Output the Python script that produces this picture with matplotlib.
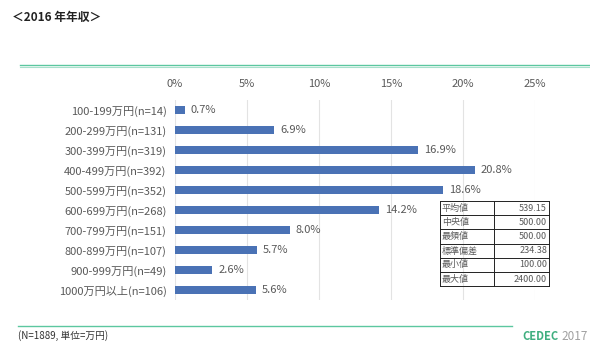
import matplotlib
matplotlib.use('Agg')
import matplotlib.pyplot as plt
from matplotlib.lines import Line2D

plt.rcParams['font.family'] = ['Noto Sans CJK JP', 'DejaVu Sans']

# data
categories = ['100-199万円(n=14)', '200-299万円(n=131)', '300-399万円(n=319)',
              '400-499万円(n=392)', '500-599万円(n=352)', '600-699万円(n=268)',
              '700-799万円(n=151)', '800-899万円(n=107)', '900-999万円(n=49)',
              '1000万円以上(n=106)']
values = [0.7, 6.9, 16.9, 20.8, 18.6, 14.2, 8.0, 5.7, 2.6, 5.6]
ticks = [0, 5, 10, 15, 20, 25]
stat_names = ['平均値', '中央値', '最頻値', '標準偏差', '最小値', '最大値']
stat_values = ['539.15', '500.00', '500.00', '234.38', '100.00', '2400.00']

W, H = 590, 353
fig = plt.figure(figsize=(W / 100, H / 100), dpi=100)
txt = '#595959'
green = '#5cc7a0'

ax = fig.add_axes([175 / W, 1 - 300 / H, 360 / W, 200 / H])
ypos = list(range(len(categories)))
ax.barh(ypos, values, height=0.38, color='#4a72b5', zorder=3)
ax.set_xlim(0, 25)
ax.set_ylim(len(categories) - 0.5, -0.5)
ax.set_yticks(ypos)
ax.set_yticklabels(categories, fontsize=8, color=txt)
ax.set_xticks(ticks)
ax.set_xticklabels(['%d%%' % t for t in ticks], fontsize=8, color=txt)
ax.xaxis.tick_top()
ax.tick_params(length=0, pad=6)
ax.tick_params(axis='x', pad=8)
ax.grid(axis='x', color='#e3e3e3', linewidth=0.8, zorder=0)
for s in ax.spines.values():
    s.set_visible(False)
for y, v in zip(ypos, values):
    ax.text(v + 0.4, y, '%.1f%%' % v, va='center', ha='left', fontsize=8, color=txt)

# title and separators
fig.text(12 / W, 1 - 17 / H, '＜2016 年年収＞', fontsize=8.5, fontweight='bold',
         va='center', ha='left', color='#222222')
fig.add_artist(Line2D([20 / W, 1.0], [1 - 65 / H, 1 - 65 / H], color=green, lw=1.0))
fig.add_artist(Line2D([20 / W, 1.0], [1 - 67 / H, 1 - 67 / H], color='#a8e0cb', lw=0.8))
fig.add_artist(Line2D([18 / W, 512 / W], [1 - 326 / H, 1 - 326 / H], color=green, lw=1.0))
fig.text(18 / W, 1 - 336 / H, '(N=1889, 単位=万円)', fontsize=7, va='center',
         ha='left', color='#333333')
fig.text(522 / W, 1 - 336 / H, 'CEDEC', fontsize=8, fontweight='bold', va='center',
         ha='left', color='#3fae7f')
fig.text(588 / W, 1 - 336 / H, '2017', fontsize=8.5, va='center', ha='right',
         color='#a0a0a0')

# stats table
tx0, tx1, tdiv = 440, 549, 494
ty0, row_h = 201, 14.2
for i, (n, v) in enumerate(zip(stat_names, stat_values)):
    yc = 1 - (ty0 + row_h * (i + 0.5)) / H
    fig.text((tx0 + 2) / W, yc, n, fontsize=6.5, va='center', ha='left', color=txt)
    fig.text((tx1 - 2) / W, yc, v, fontsize=6.5, va='center', ha='right', color=txt)
for i in range(len(stat_names) + 1):
    yl = 1 - (ty0 + row_h * i) / H
    fig.add_artist(Line2D([tx0 / W, tx1 / W], [yl, yl], color='#222222', lw=0.7))
ytop = 1 - ty0 / H
ybot = 1 - (ty0 + row_h * len(stat_names)) / H
for xl in (tx0, tdiv, tx1):
    fig.add_artist(Line2D([xl / W, xl / W], [ybot, ytop], color='#222222', lw=0.7))

fig.savefig('out.png', dpi=100, facecolor='white')
